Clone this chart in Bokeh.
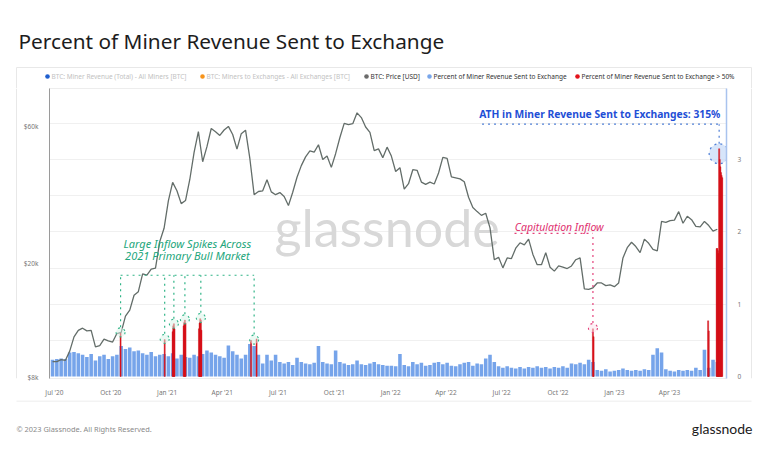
import pandas as pd
from bokeh.plotting import figure
from bokeh.layouts import column, row
from bokeh.models import (Range1d, LinearAxis, LinearScale, FixedTicker,
                          NumeralTickFormatter, DatetimeTickFormatter)
from bokeh.embed import file_html
from bokeh.resources import INLINE
from bokeh.core.properties import value

# ---------------- data ----------------
week_start = "2020-06-28"   # weekly samples

btc_price_usd = [
    # 2020
    9100, 9100, 9250, 9200, 9900, 11100, 11700, 11900, 11650, 11700, 10250, 10350,
    10900, 10750, 10650, 11400, 11500, 13100, 13750, 15500, 15950, 18400, 18200,
    19100, 19250, 23850, 26500,
    # 2021
    33000, 38300, 35800, 32300, 33100, 39200, 48700, 57500, 45200, 51000, 59000,
    57500, 55800, 58300, 60000, 56200, 50000, 56600, 58200, 46400, 34700, 35600,
    35800, 39100, 35500, 34700, 35300, 34200, 31800, 35400, 39900, 43800, 47000,
    49300, 48800, 51800, 46000, 47300, 43200, 48200, 54900, 61500, 60900, 61300,
    66900, 64400, 59700, 57200, 49400, 50100, 46700, 50800,
    # 2022
    47300, 41800, 43100, 36300, 37900, 42400, 42200, 38400, 37700, 38400, 37800,
    41300, 46800, 46400, 40000, 39700, 39400, 38500, 34000, 31300, 30300, 29400,
    29900, 26600, 20600, 21000, 19300, 20900, 20800, 22600, 23600, 23200, 24300,
    21500, 19800, 19800, 21800, 19400, 18800, 19600, 19400, 19200, 19600, 20600,
    20900, 16300, 16250, 16450, 17100, 17100, 16740, 16840,
    # 2023
    16600, 17100, 20900, 22700, 23700, 22900, 21800, 24300, 23500, 22400, 22100,
    28000, 27800, 28200, 28300, 30300, 27600, 29200, 28400, 26900, 26800, 28000,
    27100, 25900, 26300,
]

pct_sent = [
    # 2020
    0.23, 0.24, 0.25, 0.24, 0.33, 0.34, 0.32, 0.30, 0.27, 0.31, 0.22, 0.28, 0.30,
    0.24, 0.28, 0.30, 0.42, 0.38, 0.40, 0.35, 0.36, 0.32, 0.30, 0.34, 0.28, 0.30,
    0.31,
    # 2021
    0.28, 0.32, 0.25, 0.30, 0.27, 0.26, 0.30, 0.28, 0.31, 0.36, 0.33, 0.30, 0.28,
    0.26, 0.43, 0.35, 0.30, 0.25, 0.30, 0.45, 0.42, 0.30, 0.18, 0.30, 0.22, 0.30,
    0.20, 0.18, 0.20, 0.16, 0.26, 0.20, 0.18, 0.17, 0.19, 0.42, 0.20, 0.18, 0.17,
    0.36, 0.20, 0.18, 0.16, 0.17, 0.22, 0.17, 0.16, 0.18, 0.20, 0.17, 0.16, 0.15,
    # 2022
    0.15, 0.14, 0.31, 0.16, 0.14, 0.20, 0.17, 0.19, 0.15, 0.16, 0.19, 0.20, 0.17,
    0.19, 0.15, 0.14, 0.17, 0.19, 0.20, 0.15, 0.18, 0.17, 0.25, 0.30, 0.20, 0.14,
    0.12, 0.14, 0.12, 0.11, 0.13, 0.11, 0.13, 0.12, 0.14, 0.12, 0.13, 0.11, 0.13,
    0.12, 0.14, 0.12, 0.18, 0.17, 0.19, 0.17, 0.23, 0.20, 0.09, 0.08, 0.10, 0.07,
    # 2023
    0.08, 0.09, 0.11, 0.09, 0.08, 0.09, 0.08, 0.10, 0.09, 0.30, 0.39, 0.33, 0.10,
    0.08, 0.07, 0.09, 0.08, 0.09, 0.08, 0.12, 0.09, 0.37, 0.12, 0.23, 0.20,
]

# days on which more than 50% of miner revenue went to exchanges
spike_dates = [
    "2020-10-17", "2020-12-28",
    "2021-01-10", "2021-01-11", "2021-01-12", "2021-01-13",
    "2021-01-28", "2021-01-29", "2021-01-30", "2021-01-31",
    "2021-02-22", "2021-02-23", "2021-02-24", "2021-02-25", "2021-02-26",
    "2021-05-18", "2021-05-27",
    "2022-11-27", "2022-11-28",
    "2023-06-03", "2023-06-04",
    "2023-06-17", "2023-06-18", "2023-06-19", "2023-06-20", "2023-06-21",
    "2023-06-22", "2023-06-23", "2023-06-24", "2023-06-25", "2023-06-26",
]
spike_pct = [
    0.60, 0.51,
    0.62, 0.70, 0.73, 0.66,
    0.70, 0.75, 0.78, 0.74,
    0.66, 0.74, 0.80, 0.78, 0.64,
    0.50, 0.52,
    0.66, 0.55,
    0.77, 0.63,
    1.77, 1.77, 1.74, 1.70, 3.15, 3.00, 2.90, 2.82, 2.78, 2.75,
]

x_tick_dates = ["2020-07-01", "2020-10-01", "2021-01-01", "2021-04-01", "2021-07-01",
                "2021-10-01", "2022-01-01", "2022-04-01", "2022-07-01", "2022-10-01",
                "2023-01-01", "2023-04-01"]
price_ticks = [8000, 20000, 60000]
pct_ticks = [0, 1, 2, 3]

legend_labels = ["BTC: Miner Revenue (Total) - All Miners [BTC]",
                 "BTC: Miners to Exchanges - All Exchanges [BTC]",
                 "BTC: Price [USD]",
                 "Percent of Miner Revenue Sent to Exchange",
                 "Percent of Miner Revenue Sent to Exchange > 50%"]

# annotation anchors
bull_dates = ["2020-10-17", "2020-12-28", "2021-01-12", "2021-01-30", "2021-02-25", "2021-05-23"]
bull_tops = [0.61, 0.52, 0.73, 0.79, 0.81, 0.51]
capit_date, capit_top = "2022-11-27", 0.67
ath_date, ath_top = "2023-06-21", 3.08

# ---------------- styling ----------------
FONT = "Noto Sans"
DAY = 86400000
BLUE = "#76a4ea"
RED = "#e3121b"
GREEN = "#2fb487"
PINK = "#e4407a"
ATHBLUE = "#1f4fd6"
BORDER = "#e8e8e8"

W = 768
HEAD_H, CHART_H, FOOT_H = 88, 312, 63
STRIP_L, STRIP_R = 20, 20


def pixel_fig(w, h):
    f = figure(width=w, height=h, x_range=Range1d(0, w), y_range=Range1d(h, 0),
               output_backend="svg", toolbar_location=None, min_border=0,
               x_axis_location=None, y_axis_location=None, title=None)
    f.outline_line_color = None
    f.grid.visible = False
    f.background_fill_color = "white"
    f.border_fill_color = "white"
    return f


# ---------------- header: title + legend ----------------
head = pixel_fig(W, HEAD_H)
head.text(x=[18], y=[40], text=["Percent of Miner Revenue Sent to Exchange"],
          text_font=value(FONT), text_font_size="20.8px", text_color="#1d1d1d",
          text_baseline="middle", text_align="left")
head.segment(x0=[16, 16, 751], y0=[67, 67, 67], x1=[751, 16, 751], y1=[67, HEAD_H, HEAD_H],
             line_color=BORDER, line_width=1)
legend_dot_x = [47, 202, 366, 429, 577]
legend_colors = ["#1f5fcf", "#f7931a", "#6b6b6b", "#78a6ea", "#e3121b"]
legend_text_colors = ["#c2c2c2", "#c2c2c2", "#333333", "#333333", "#333333"]
LY = 76
head.scatter(legend_dot_x, [LY] * 5, size=4.6, fill_color=legend_colors, line_color=None)
head.text(x=[x + 4 for x in legend_dot_x], y=[LY] * 5, text=legend_labels,
          text_font=value(FONT), text_font_size="6.5px", text_color=legend_text_colors,
          text_baseline="middle", text_align="left")

# ---------------- side strips (panel border) ----------------
lstrip = pixel_fig(STRIP_L, CHART_H)
lstrip.segment(x0=[16], y0=[0], x1=[16], y1=[CHART_H], line_color=BORDER, line_width=1)
rstrip = pixel_fig(STRIP_R, CHART_H)
rstrip.segment(x0=[3], y0=[0], x1=[3], y1=[CHART_H], line_color=BORDER, line_width=1)

# ---------------- chart ----------------
weeks = pd.date_range(week_start, periods=len(btc_price_usd), freq="7D")
spikes = pd.to_datetime(spike_dates)

p = figure(width=W - STRIP_L - STRIP_R, height=CHART_H, x_axis_type="datetime",
           y_axis_type="log",
           x_range=Range1d(pd.Timestamp("2020-06-23"), pd.Timestamp("2023-07-03")),
           y_range=Range1d(7950, 81300), output_backend="svg", toolbar_location=None,
           min_border_left=45 - STRIP_L, min_border_right=(W - STRIP_R) - 726,
           min_border_top=0, min_border_bottom=22, title=None)
p.extra_y_ranges = {"pct": Range1d(-0.028, 3.983)}
p.extra_y_scales = {"pct": LinearScale()}
p.background_fill_color = "white"
p.border_fill_color = "white"
p.outline_line_color = "#ededed"
p.xgrid.visible = False
p.ygrid.visible = False

xa = p.xaxis[0]
xa.ticker = FixedTicker(ticks=[pd.Timestamp(d).value // 10**6 for d in x_tick_dates])
xa.formatter = DatetimeTickFormatter(days="%b '%y", months="%b '%y", years="%b '%y")
xa.axis_line_color = None
xa.major_tick_line_color = None
xa.minor_tick_line_color = None
xa.major_label_text_font_size = "6.5px"
xa.major_label_text_color = "#777777"
xa.major_label_text_font = FONT
xa.major_label_standoff = 3

ya = p.yaxis[0]
ya.ticker = FixedTicker(ticks=price_ticks)
ya.formatter = NumeralTickFormatter(format="$0a")
ya.axis_line_color = "#9a9a9a"
ya.major_tick_line_color = None
ya.minor_tick_line_color = None
ya.major_label_text_font_size = "6.5px"
ya.major_label_text_color = "#777777"
ya.major_label_text_font = FONT
ya.major_label_standoff = 5

ra = LinearAxis(y_range_name="pct", ticker=FixedTicker(ticks=pct_ticks),
                axis_line_color="#a9c3ee", axis_line_width=1.5,
                major_tick_line_color=None, minor_tick_line_color=None,
                major_label_text_font_size="6.5px", major_label_text_color="#777777",
                major_label_text_font=FONT, major_label_standoff=5)
p.add_layout(ra, "right")

# faint horizontal guides
p.hspan(y=[0.5, 1.0, 1.5, 2.0, 2.5, 3.0, 3.5], y_range_name="pct",
        line_color="#f0f0f0", line_width=1)

# watermark
p.text(x=[pd.Timestamp("2021-12-26")], y=[26800], text=["glassnode"],
       text_font=value("Lato"), text_font_size="52px", text_color="#d8d8d8",
       text_align="center", text_baseline="middle")

# bars + price
p.vbar(x=weeks, top=pct_sent, bottom=0, width=5.8 * DAY, y_range_name="pct",
       fill_color=BLUE, line_color=None)
p.line(weeks, btc_price_usd, line_color="#636d69", line_width=1.3)

# ATH circle under the red bars
p.scatter([pd.Timestamp(ath_date)], [ath_top], size=20, y_range_name="pct",
          fill_color="#c9dcf8", fill_alpha=0.75, line_color="#4f7fd6",
          line_dash="dotted", line_width=1.2)

p.vbar(x=spikes, top=spike_pct, bottom=0, width=1.8 * DAY, y_range_name="pct",
       fill_color=RED, line_color="#c70d15", line_width=0.4)

# --- green annotation ---
bd = pd.to_datetime(bull_dates)
H_GREEN = 1.40
p.segment(x0=bd, y0=[t + 0.07 for t in bull_tops], x1=bd, y1=[H_GREEN] * len(bd),
          y_range_name="pct", line_color=GREEN, line_dash="dotted", line_width=1.2)
p.segment(x0=[bd[0]], y0=[H_GREEN], x1=[bd[-1]], y1=[H_GREEN], y_range_name="pct",
          line_color=GREEN, line_dash="dotted", line_width=1.2)
p.scatter(bd, bull_tops, size=9, y_range_name="pct", fill_color="#d8f3e8",
          fill_alpha=0.5, line_color=GREEN, line_dash="dotted", line_width=1.1)
p.text(x=[pd.Timestamp("2021-02-03")] * 2, y=[1.84, 1.67],
       text=["Large Inflow Spikes Across", "2021 Primary Bull Market"],
       y_range_name="pct", text_font=value(FONT), text_font_style="italic",
       text_font_size="11px", text_color="#22a67b", text_align="center",
       text_baseline="middle")

# --- capitulation annotation ---
H_PINK = 1.98
cd = pd.Timestamp(capit_date)
p.segment(x0=[cd], y0=[capit_top + 0.07], x1=[cd], y1=[H_PINK], y_range_name="pct",
          line_color=PINK, line_dash="dotted", line_width=1.2)
p.segment(x0=[pd.Timestamp("2022-07-22")], y0=[H_PINK], x1=[cd], y1=[H_PINK],
          y_range_name="pct", line_color=PINK, line_dash="dotted", line_width=1.2)
p.scatter([cd], [capit_top], size=9, y_range_name="pct", fill_color="#fbe1eb",
          fill_alpha=0.5, line_color=PINK, line_dash="dotted", line_width=1.1)
p.text(x=[pd.Timestamp("2022-10-03")], y=[2.07], text=["Capitulation Inflow"],
       y_range_name="pct", text_font=value(FONT), text_font_style="italic",
       text_font_size="10.5px", text_color="#e0306f", text_align="center",
       text_baseline="middle")

# --- ATH annotation ---
H_ATH = 3.49
ad = pd.Timestamp(ath_date)
p.segment(x0=[ad], y0=[ath_top + 0.14], x1=[ad], y1=[H_ATH], y_range_name="pct",
          line_color="#4f7fd6", line_dash="dotted", line_width=1.2)
p.segment(x0=[pd.Timestamp("2022-05-30")], y0=[H_ATH], x1=[ad], y1=[H_ATH],
          y_range_name="pct", line_color="#4f7fd6", line_dash="dotted", line_width=1.2)
p.text(x=[pd.Timestamp("2023-06-23")], y=[3.63],
       text=["ATH in Miner Revenue Sent to Exchanges: 315%"], y_range_name="pct",
       text_font=value(FONT), text_font_style="bold", text_font_size="10.3px",
       text_color=ATHBLUE, text_align="right", text_baseline="middle")

# ---------------- footer ----------------
foot = pixel_fig(W, FOOT_H)
foot.segment(x0=[16], y0=[0.5], x1=[751], y1=[0.5], line_color=BORDER, line_width=1)
foot.text(x=[16], y=[28], text=["© 2023 Glassnode. All Rights Reserved."],
          text_font=value(FONT), text_font_size="7.4px", text_color="#8a8a8a",
          text_baseline="middle", text_align="left")
foot.text(x=[752], y=[28], text=["glassnode"], text_font=value("Lato"),
          text_font_size="14px", text_color="#1a1a1a", text_baseline="middle",
          text_align="right")

layout = column(head, row(lstrip, p, rstrip), foot)
open("out.html", "w").write(file_html(layout, INLINE))
